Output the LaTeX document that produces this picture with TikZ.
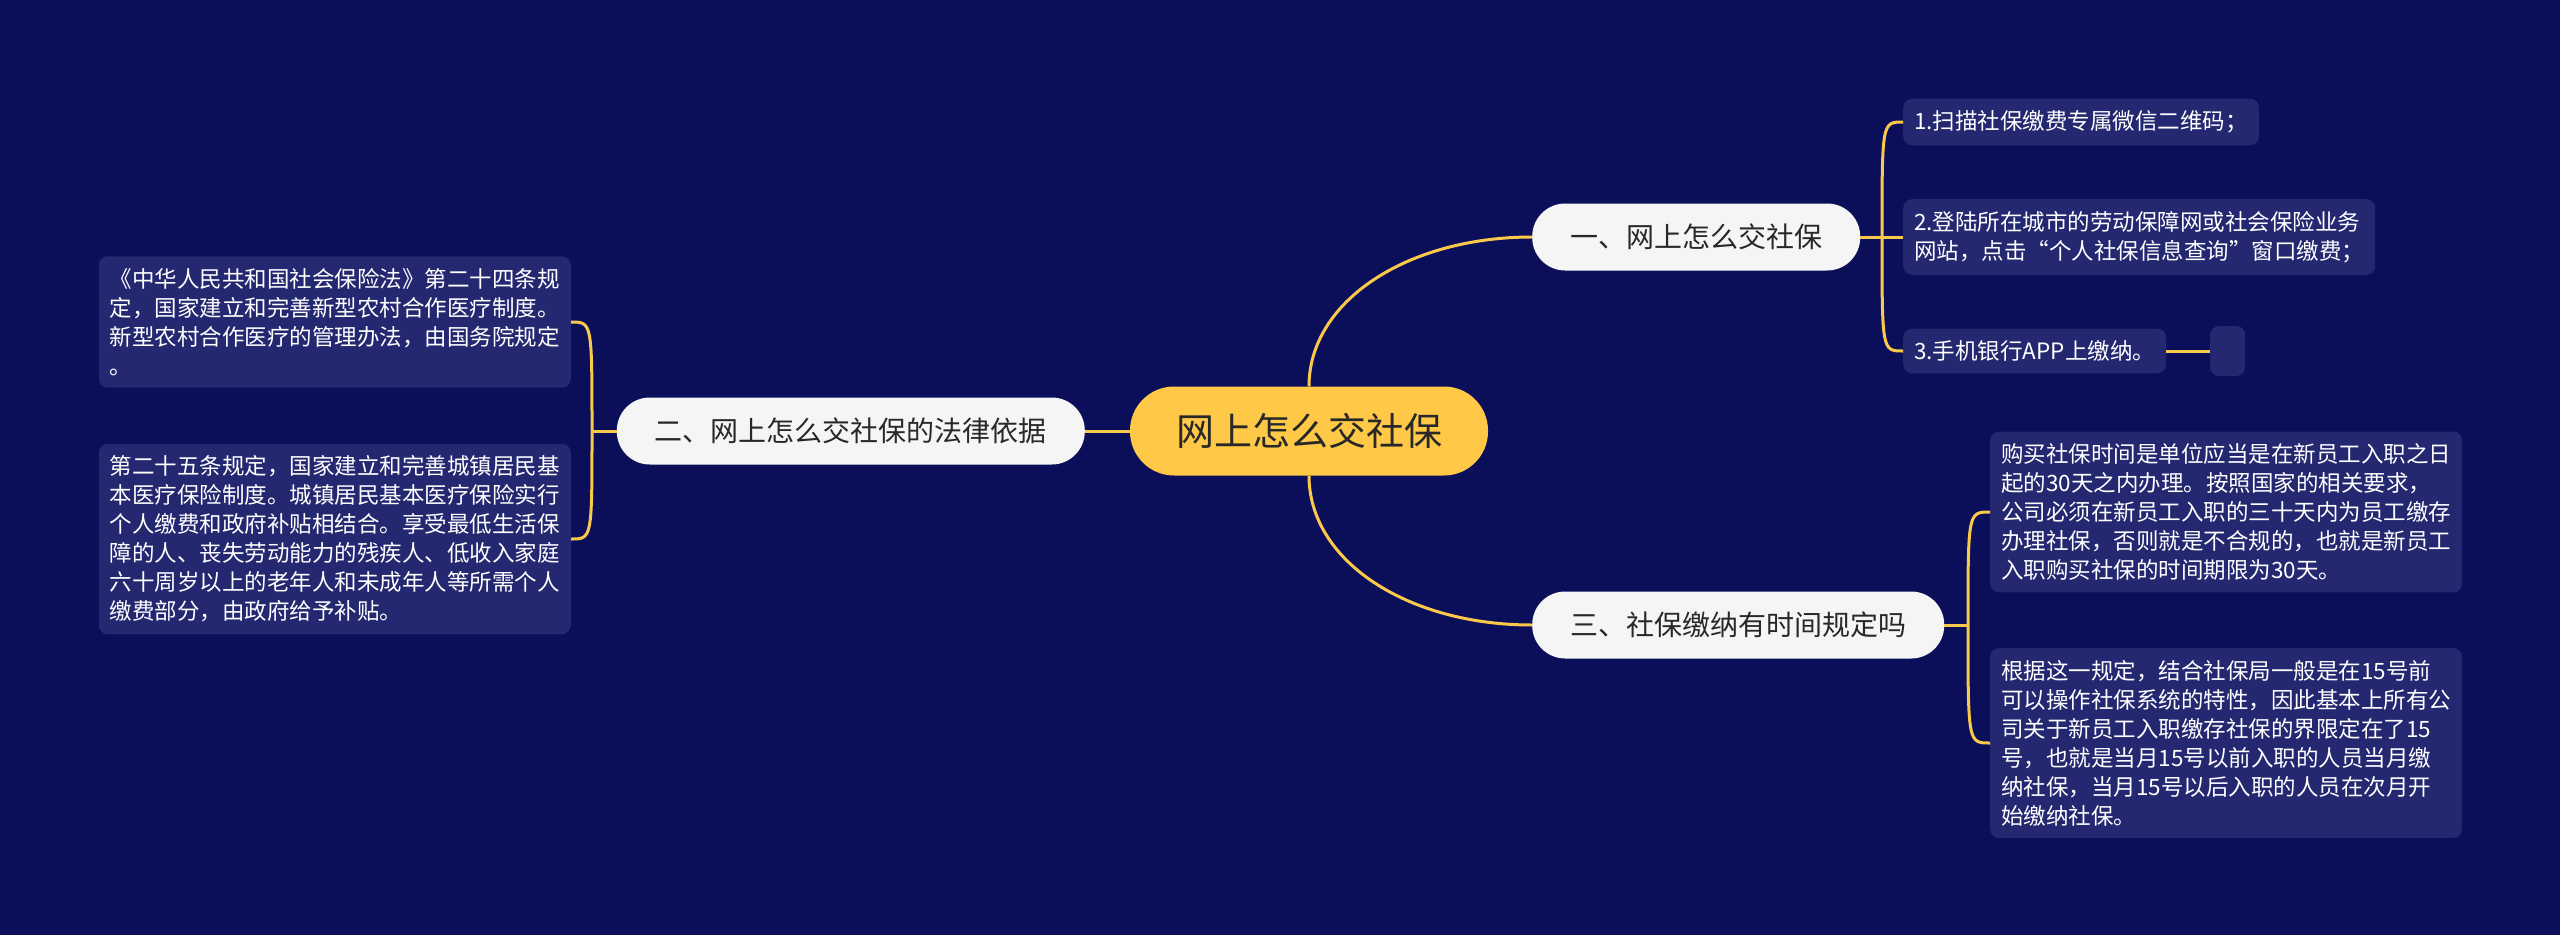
\documentclass[tikz,border=0pt]{standalone}
\usepackage{fontspec}
\setmainfont{Noto Sans CJK SC}
\definecolor{BackClr}{RGB}{11,15,90}
\definecolor{LeafClr}{RGB}{36,40,112}
\definecolor{RootClr}{RGB}{255,200,70}
\definecolor{LineClr}{RGB}{250,200,75}
\definecolor{TopicClr}{RGB}{245,245,245}
\definecolor{InkClr}{RGB}{40,40,40}

\tikzset{
  link/.style={line width=3pt,color=LineClr},
  root/.style={fill=RootClr,text=InkClr,rounded corners=44pt,minimum height=89pt,
    inner xsep=46pt,font=\fontsize{38}{44}\selectfont},
  topic/.style={fill=TopicClr,text=InkClr,rounded corners=33pt,minimum height=67pt,
    inner xsep=38pt,font=\fontsize{28}{34}\selectfont},
  leaf/.style={fill=LeafClr,text=white,rounded corners=9pt,align=left,
    inner xsep=11pt,inner ysep=12pt,font=\fontsize{22.5}{29}\selectfont}
}

\begin{document}
\begin{tikzpicture}[x=1pt,y=-1pt]
\fill[BackClr] (0,0) rectangle (2560,935);
\useasboundingbox (0,0) rectangle (2560,935);

\node[root] (root) at (1309,431) {网上怎么交社保};
\node[topic,anchor=west] (one) at (1532,237) {一、网上怎么交社保};
\node[topic,anchor=east] (two) at (1085,431) {二、网上怎么交社保的法律依据};
\node[topic,anchor=west] (three) at (1532,625) {三、社保缴纳有时间规定吗};

\node[leaf,anchor=west] (scan) at (1903,122) {1.扫描社保缴费专属微信二维码；};
\node[leaf,anchor=west] (login) at (1903,237) {2.登陆所在城市的劳动保障网或社会保险业务\\网站，点击“个人社保信息查询”窗口缴费；};
\node[leaf,anchor=west] (bank) at (1903,351) {3.手机银行APP上缴纳。};
\node[leaf,anchor=west,minimum width=35pt,minimum height=50pt] (blank) at (2210,351) {};

\node[leaf,anchor=east] (law) at (571,322) {《中华人民共和国社会保险法》第二十四条规\\定，国家建立和完善新型农村合作医疗制度。\\新型农村合作医疗的管理办法，由国务院规定\\。};
\node[leaf,anchor=east] (town) at (571,539) {第二十五条规定，国家建立和完善城镇居民基\\本医疗保险制度。城镇居民基本医疗保险实行\\个人缴费和政府补贴相结合。享受最低生活保\\障的人、丧失劳动能力的残疾人、低收入家庭\\六十周岁以上的老年人和未成年人等所需个人\\缴费部分，由政府给予补贴。};

\node[leaf,anchor=west] (buy) at (1990,512) {购买社保时间是单位应当是在新员工入职之日\\起的30天之内办理。按照国家的相关要求，\\公司必须在新员工入职的三十天内为员工缴存\\办理社保，否则就是不合规的，也就是新员工\\入职购买社保的时间期限为30天。};
\node[leaf,anchor=west] (rule) at (1990,743) {根据这一规定，结合社保局一般是在15号前\\可以操作社保系统的特性，因此基本上所有公\\司关于新员工入职缴存社保的界限定在了15\\号，也就是当月15号以前入职的人员当月缴\\纳社保，当月15号以后入职的人员在次月开\\始缴纳社保。};

\coordinate (j1) at (1882,237);
\coordinate (j2) at (592,431);
\coordinate (j3) at (1968,625);

\draw[link] (root.west) -- (two.east);
\draw[link] (root.north) .. controls +(0,-85) and +(-125,0) .. (one.west);
\draw[link] (root.south) .. controls +(0,85) and +(-125,0) .. (three.west);

\draw[link] (one.east) -- (j1) -- (login.west);
\draw[link] (j1) .. controls (j1 |- scan.west) .. (scan.west);
\draw[link] (j1) .. controls (j1 |- bank.west) .. (bank.west);
\draw[link] (bank.east) -- (blank.west);

\draw[link] (two.west) -- (j2);
\draw[link] (j2) .. controls (j2 |- law.east) .. (law.east);
\draw[link] (j2) .. controls (j2 |- town.east) .. (town.east);

\draw[link] (three.east) -- (j3);
\draw[link] (j3) .. controls (j3 |- buy.west) .. (buy.west);
\draw[link] (j3) .. controls (j3 |- rule.west) .. (rule.west);

\end{tikzpicture}
\end{document}
